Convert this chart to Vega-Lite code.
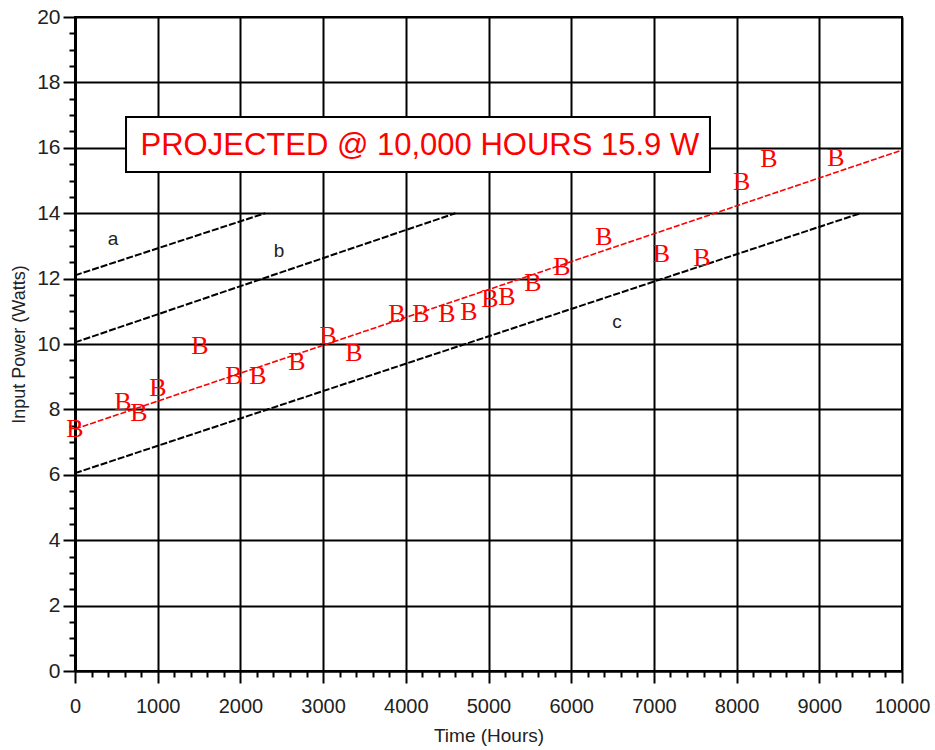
{
  "$schema": "https://vega.github.io/schema/vega-lite/v6.json",
  "autosize": "none",
  "width": 827,
  "height": 654,
  "padding": {"left": 75, "top": 17, "right": 33, "bottom": 79},
  "background": "white",
  "config": {
    "view": {"stroke": "black", "strokeWidth": 2},
    "font": "Liberation Sans, Arial"
  },
  "datasets": {
    "pts": [
      {"h": 0, "w": 7.42}, {"h": 580, "w": 8.26}, {"h": 774, "w": 7.92},
      {"h": 1004, "w": 8.69}, {"h": 1511, "w": 9.97}, {"h": 1923, "w": 9.05}, {"h": 2213, "w": 9.05},
      {"h": 2684, "w": 9.48}, {"h": 3060, "w": 10.27}, {"h": 3374, "w": 9.75}, {"h": 3894, "w": 10.95},
      {"h": 4184, "w": 10.95}, {"h": 4498, "w": 10.95}, {"h": 4764, "w": 11.0}, {"h": 5018, "w": 11.4},
      {"h": 5224, "w": 11.47}, {"h": 5538, "w": 11.9}, {"h": 5889, "w": 12.4}, {"h": 6397, "w": 13.3},
      {"h": 7092, "w": 12.79}, {"h": 7582, "w": 12.66}, {"h": 8060, "w": 15.0}, {"h": 8392, "w": 15.7},
      {"h": 9202, "w": 15.73}
    ],
    "fit": [{"h": 0, "w": 7.4}, {"h": 10000, "w": 15.93}],
    "limits": [
      {"line": "a", "h": 0, "w": 12.1}, {"line": "a", "h": 2300, "w": 14.0},
      {"line": "b", "h": 0, "w": 10.05}, {"line": "b", "h": 4600, "w": 14.0},
      {"line": "c", "h": 0, "w": 6.05}, {"line": "c", "h": 9500, "w": 14.0}
    ],
    "labels": [
      {"t": "a", "h": 459, "w": 13.2}, {"t": "b", "h": 2467, "w": 12.84}, {"t": "c", "h": 6554, "w": 10.67}
    ],
    "note": [{"t": "PROJECTED @ 10,000 HOURS 15.9 W", "h": 617, "h2": 7678, "w": 16.94, "w2": 15.26, "hc": 4170, "wc": 16.07}]
  },
  "encoding": {
    "x": {
      "field": "h", "type": "quantitative",
      "scale": {"domain": [0, 10000], "nice": false, "zero": false},
      "axis": {
        "title": "Time (Hours)",
        "titleFontSize": 19, "titleFontWeight": "normal", "titleColor": "#222", "titlePadding": 10,
        "values": [0,200,400,600,800,1000,1200,1400,1600,1800,2000,2200,2400,2600,2800,3000,3200,3400,3600,3800,4000,4200,4400,4600,4800,5000,5200,5400,5600,5800,6000,6200,6400,6600,6800,7000,7200,7400,7600,7800,8000,8200,8400,8600,8800,9000,9200,9400,9600,9800,10000],
        "format": "d",
        "labelExpr": "datum.value % 1000 === 0 ? datum.label : ''",
        "labelFontSize": 20, "labelColor": "#222", "labelPadding": 13, "labelFlush": false,
        "tickColor": "black", "tickWidth": 2,
        "tickSize": {"condition": {"test": "datum.value % 1000 === 0", "value": 12}, "value": 6},
        "domainColor": "black", "domainWidth": 2,
        "grid": true, "gridColor": "black", "gridWidth": 2,
        "gridOpacity": {"condition": {"test": "datum.value % 1000 === 0", "value": 1}, "value": 0}
      }
    },
    "y": {
      "field": "w", "type": "quantitative",
      "scale": {"domain": [0, 20], "nice": false, "zero": false},
      "axis": {
        "title": "Input Power (Watts)",
        "titleFontSize": 18, "titleFontWeight": "normal", "titleColor": "#222", "titlePadding": 8,
        "values": [0,0.5,1,1.5,2,2.5,3,3.5,4,4.5,5,5.5,6,6.5,7,7.5,8,8.5,9,9.5,10,10.5,11,11.5,12,12.5,13,13.5,14,14.5,15,15.5,16,16.5,17,17.5,18,18.5,19,19.5,20],
        "format": "~g",
        "labelExpr": "datum.value % 2 === 0 ? datum.label : ''",
        "labelFontSize": 21, "labelColor": "#222", "labelPadding": 3, "labelFlush": false,
        "tickColor": "black", "tickWidth": 2,
        "tickSize": {"condition": {"test": "datum.value % 2 === 0", "value": 12}, "value": 6},
        "domainColor": "black", "domainWidth": 3,
        "grid": true, "gridColor": "black", "gridWidth": 2,
        "gridOpacity": {"condition": {"test": "datum.value % 2 === 0", "value": 1}, "value": 0}
      }
    }
  },
  "layer": [
    {
      "data": {"name": "limits"},
      "mark": {"type": "line", "color": "black", "strokeWidth": 2, "strokeDash": [7, 2]},
      "encoding": {"detail": {"field": "line"}}
    },
    {
      "data": {"name": "fit"},
      "mark": {"type": "line", "color": "#ff0000", "strokeWidth": 1.6, "strokeDash": [6, 2]},
      "encoding": {}
    },
    {
      "data": {"name": "note"},
      "mark": {"type": "rect", "fill": "white", "stroke": "black", "strokeWidth": 2},
      "encoding": {"x2": {"field": "h2"}, "y2": {"field": "w2"}}
    },
    {
      "data": {"name": "note"},
      "mark": {"type": "text", "color": "#ff0000", "fontSize": 31, "font": "Liberation Sans, Arial", "align": "center", "baseline": "middle"},
      "encoding": {"x": {"field": "hc", "type": "quantitative"}, "y": {"field": "wc", "type": "quantitative"}, "text": {"field": "t"}}
    },
    {
      "data": {"name": "labels"},
      "mark": {"type": "text", "color": "#222", "fontSize": 19, "align": "center", "baseline": "middle"},
      "encoding": {"text": {"field": "t"}}
    },
    {
      "data": {"name": "pts"},
      "mark": {"type": "text", "color": "#ff0000", "fontSize": 26, "font": "Liberation Serif, DejaVu Serif", "align": "center", "baseline": "middle", "dy": 1},
      "encoding": {"text": {"value": "B"}}
    }
  ]
}
